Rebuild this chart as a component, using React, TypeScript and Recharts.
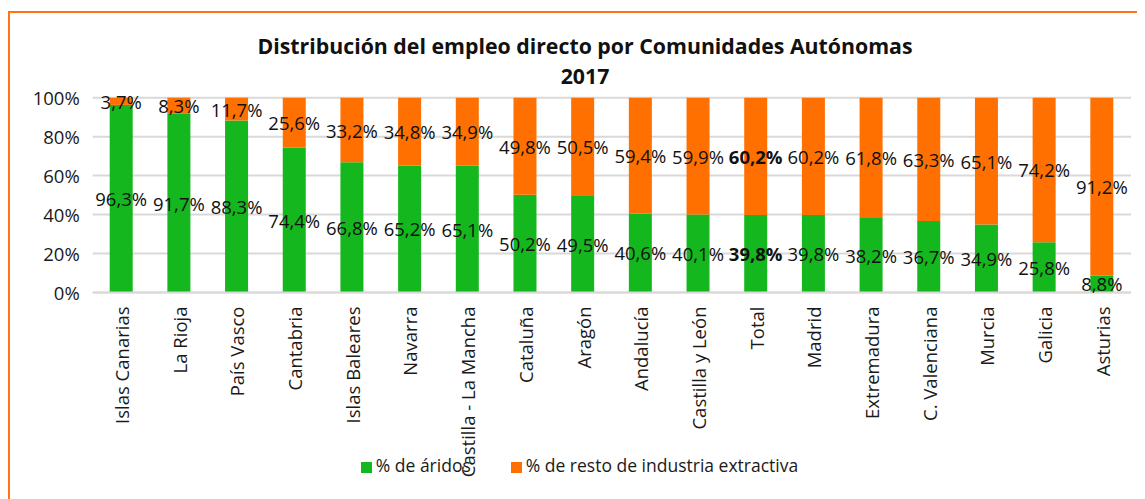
import React from 'react';
import { BarChart, Bar, XAxis, YAxis, CartesianGrid, Legend, LabelList } from 'recharts';

const regions = [
    'Islas Canarias', 'La Rioja', 'País Vasco', 'Cantabria', 'Islas Baleares', 'Navarra',
    'Castilla - La Mancha', 'Cataluña', 'Aragón', 'Andalucía', 'Castilla y León', 'Total',
    'Madrid', 'Extremadura', 'C. Valenciana', 'Murcia', 'Galicia', 'Asturias',
];
const aridos = [96.3, 91.7, 88.3, 74.4, 66.8, 65.2, 65.1, 50.2, 49.5, 40.6, 40.1, 39.8, 39.8, 38.2, 36.7, 34.9, 25.8, 8.8];
const resto = [3.7, 8.3, 11.7, 25.6, 33.2, 34.8, 34.9, 49.8, 50.5, 59.4, 59.9, 60.2, 60.2, 61.8, 63.3, 65.1, 74.2, 91.2];
const yTicks = [0, 20, 40, 60, 80, 100];

const data = regions.map((name, i) => ({ name, aridos: aridos[i], resto: resto[i] }));

const FONT = '"Open Sans", sans-serif';
const GREEN = '#14b71e';
const ORANGE = '#ff7000';

const fmt = (v: number) => v.toFixed(1).replace('.', ',') + '%';

const XTick = ({ x, y, payload }: any) => (
    <text
        x={x}
        y={y}
        transform={`rotate(-90, ${x}, ${y})`}
        textAnchor="end"
        dominantBaseline="central"
        fontFamily={FONT}
        fontSize={18.5}
        fill="#1a1a1a"
    >
        {payload.value}
    </text>
);

const YTick = ({ x, y, payload }: any) => (
    <text x={x} y={y} textAnchor="end" dominantBaseline="central" fontFamily={FONT} fontSize={18.5} fill="#1a1a1a">
        {payload.value}%
    </text>
);

const SegLabel = (props: any) => {
    const { x, y, width, height, value, index } = props;
    const bold = regions[index] === 'Total';
    return (
        <text
            x={x + width / 2}
            y={y + height / 2}
            textAnchor="middle"
            dominantBaseline="central"
            fontFamily={FONT}
            fontSize={18.5}
            fontWeight={bold ? 700 : 400}
            fill="#111"
        >
            {fmt(value)}
        </text>
    );
};

const legendText = (value: string) => (
    <span
        style={{
            color: '#1a1a1a', fontFamily: FONT, fontSize: 17.5,
            marginRight: value === '% de áridos' ? 30 : 0,
        }}
    >
        {value}
    </span>
);

export default function App() {
    return (
        <div style={{ position: 'relative', width: 1137, height: 491, fontFamily: FONT, overflow: 'hidden' }}>
            {/* frame, only top and left edges are inside the picture */}
            <div
                style={{
                    position: 'absolute', left: 0, top: 3, width: 1200, height: 600,
                    borderTop: '2px solid #ff7315', borderLeft: '2px solid #ff7315',
                }}
            />
            <div
                style={{
                    position: 'absolute', left: 0, top: 23, width: 1154, textAlign: 'center',
                    fontWeight: 700, fontSize: 21.3, lineHeight: '30px', color: '#111',
                }}
            >
                <div>Distribución del empleo directo por Comunidades Autónomas</div>
                <div>2017</div>
            </div>
            <BarChart
                width={1137}
                height={491}
                data={data}
                margin={{ top: 89.7, right: 14, left: 0, bottom: 56.5 }}
                style={{ position: 'absolute', left: 0, top: 0 }}
            >
                <CartesianGrid vertical={false} stroke="#d9d9d9" strokeWidth={2} />
                <XAxis
                    dataKey="name"
                    interval={0}
                    height={150}
                    tick={<XTick />}
                    tickLine={false}
                    tickSize={0}
                    tickMargin={14}
                    axisLine={{ stroke: '#d9d9d9', strokeWidth: 2 }}
                />
                <YAxis
                    width={84.7}
                    domain={[0, 100]}
                    ticks={yTicks}
                    tick={<YTick />}
                    tickLine={false}
                    axisLine={false}
                    tickSize={0}
                    tickMargin={13}
                />
                <Legend
                    verticalAlign="middle"
                    iconType="square"
                    iconSize={11}
                    itemSorter="dataKey"
                    formatter={legendText}
                    wrapperStyle={{ top: 445, left: 8, width: 1137 }}
                />
                <Bar dataKey="aridos" name="% de áridos" stackId="a" fill={GREEN} barSize={23} isAnimationActive={false}>
                    <LabelList dataKey="aridos" content={<SegLabel />} />
                </Bar>
                <Bar dataKey="resto" name="% de resto de industria extractiva" stackId="a" fill={ORANGE} barSize={23} isAnimationActive={false}>
                    <LabelList dataKey="resto" content={<SegLabel />} />
                </Bar>
            </BarChart>
        </div>
    );
}
